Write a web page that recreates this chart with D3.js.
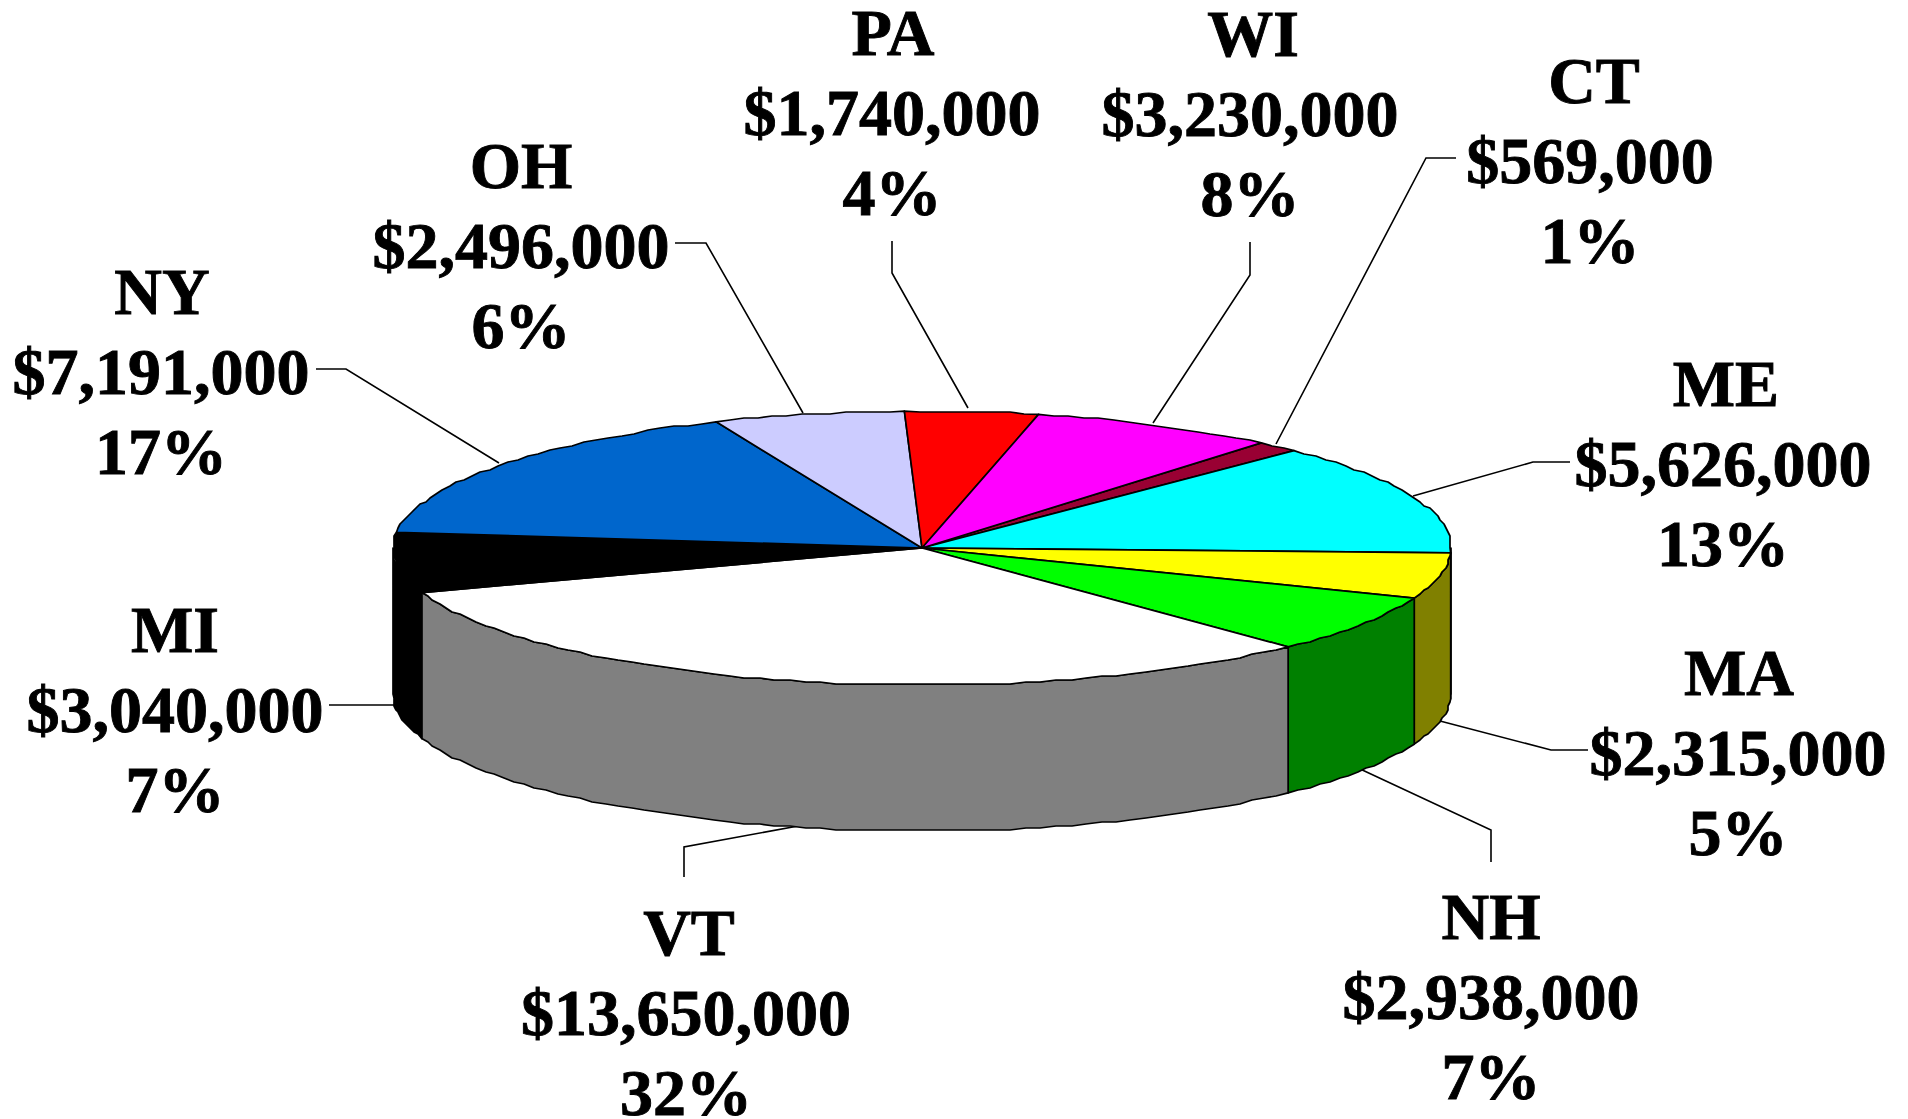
<!DOCTYPE html>
<html>
<head>
<meta charset="utf-8">
<script src="https://cdnjs.cloudflare.com/ajax/libs/d3/7.8.5/d3.min.js"></script>
<style>
html,body{margin:0;padding:0;background:#fff;overflow:hidden}
svg{display:block}
text{font-family:"Liberation Serif","Times New Roman",serif;font-weight:700;font-size:66px;fill:#000;stroke:#000;stroke-width:0.9px;text-anchor:middle}
</style>
</head>
<body>
<div id="chart"></div>
<script>
// Data, clockwise from the CT slice
const states = ["CT","ME","MA","NH","VT","MI","NY","OH","PA","WI"];
const amounts = [569000,5626000,2315000,2938000,13650000,3040000,7191000,2496000,1740000,3230000];
const topColors = ["#990033","#00ffff","#ffff00","#00ff00","#ffffff","#000000","#0066cc","#ccccff","#ff0000","#ff00ff"];
const sideColors = ["#4d001a","#008080","#808000","#008000","#808080","#000000","#003366","#666680","#800000","#800080"];

// Layout
const W = 1908, H = 1119;
const cx = 922, cy = 548, rx = 529, ry = 137, depth = 146;
const startDeg = 39.9;
const lineGap = 80;
const snap = 2; // the source outline is slightly stepped
const labelPos = {
  CT:{x:1590,y:103,titleDx:4, leader:[[1456,158],[1426,158],[1276,444]]},
  ME:{x:1723,y:406,titleDx:3, leader:[[1570,462],[1533,462],[1413,496]]},
  MA:{x:1738,y:695,titleDx:1, leader:[[1588,750],[1551,750],[1440,721]]},
  NH:{x:1491,y:939,titleDx:0, leader:[[1491,862],[1491,830],[1358,768]]},
  VT:{x:686,y:955,titleDx:3,  leader:[[684,877],[684,847],[809,824]]},
  MI:{x:175,y:652,titleDx:0,  leader:[[329,705],[395,705]]},
  NY:{x:161,y:314,titleDx:1,  leader:[[316,369],[346,369],[499,463]]},
  OH:{x:521,y:188,titleDx:0,  leader:[[675,243],[706,243],[803,413]]},
  PA:{x:892,y:55,titleDx:1,   leader:[[892,241],[892,273],[968,408]]},
  WI:{x:1250,y:56,titleDx:3,  leader:[[1250,242],[1250,275],[1153,423]]}
};

const total = d3.sum(amounts);
const money = d3.format("$,.0f");
const pct = d3.format(".0%");

const pie = d3.pie().sort(null)
  .startAngle(startDeg*Math.PI/180)
  .endAngle(startDeg*Math.PI/180 + 2*Math.PI);
const arcs = pie(amounts);

const px = a => cx + rx*Math.sin(a);
const py = a => cy - ry*Math.cos(a);
const line = d3.line();

function rim(a0,a1){
  const n = Math.max(2, Math.ceil((a1-a0)/0.03));
  return d3.range(n+1).map(i=>{
    const a = a0+(a1-a0)*i/n;
    const end = i===0 || i===n;
    return end ? [px(a),py(a)]
               : [Math.round(px(a)/snap)*snap, Math.round(py(a)/snap)*snap];
  });
}

const svg = d3.select("#chart").append("svg").attr("width",W).attr("height",H).attr("viewBox",`0 0 ${W} ${H}`);
svg.append("rect").attr("width",W).attr("height",H).attr("fill","#fff");

// Leader lines go underneath the pie
svg.append("g").selectAll("path").data(states).join("path")
  .attr("d",s=>line(labelPos[s].leader))
  .attr("fill","none").attr("stroke","#000").attr("stroke-width",1.6);

// Side wall: only the front half of the disc (90deg to 270deg) is visible
const gWall = svg.append("g");
arcs.forEach((d,i)=>{
  [0,2*Math.PI].forEach(shift=>{
    const a0 = Math.max(d.startAngle-shift, Math.PI/2);
    const a1 = Math.min(d.endAngle-shift, 3*Math.PI/2);
    if(a1<=a0) return;
    const top = rim(a0,a1);
    const bottom = top.slice().reverse().map(p=>[p[0],p[1]+depth]);
    gWall.append("path")
      .attr("d",line(top.concat(bottom))+"Z")
      .attr("fill",sideColors[i])
      .attr("stroke","#000").attr("stroke-width",1.7).attr("stroke-linejoin","round");
  });
});

// Top face
svg.append("g").selectAll("path").data(arcs).join("path")
  .attr("d",d=>line([[cx,cy]].concat(rim(d.startAngle,d.endAngle)))+"Z")
  .attr("fill",(d,i)=>topColors[i])
  .attr("stroke","#000").attr("stroke-width",1.7).attr("stroke-linejoin","round");

// Labels
const gLabels = svg.append("g");
states.forEach((s,i)=>{
  const p = labelPos[s];
  const lines = [s, money(amounts[i]), pct(amounts[i]/total)];
  lines.forEach((t,k)=>{
    gLabels.append("text").attr("x",p.x+(k===0?p.titleDx:0)).attr("y",p.y+k*lineGap).text(t);
  });
});
</script>
</body>
</html>
